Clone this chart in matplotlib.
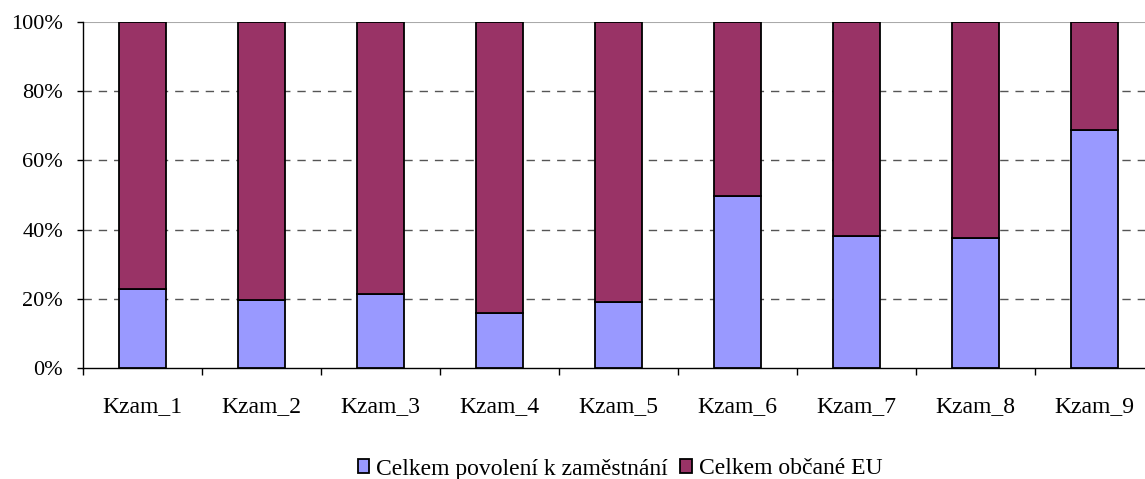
import matplotlib
matplotlib.use('Agg')
import matplotlib.pyplot as plt
import numpy as np

plt.rcParams['font.family'] = ['Liberation Serif', 'DejaVu Serif']

categories = ['Kzam_1', 'Kzam_2', 'Kzam_3', 'Kzam_4', 'Kzam_5',
              'Kzam_6', 'Kzam_7', 'Kzam_8', 'Kzam_9']
povoleni = [22.9, 19.7, 21.3, 15.9, 19.1, 49.7, 38.2, 37.7, 68.8]
obcane_eu = [100 - v for v in povoleni]
series_names = ['Celkem povolení k zaměstnání', 'Celkem občané EU']
colors = ['#9999FF', '#993366']

fig = plt.figure(figsize=(11.45, 4.79), dpi=100)
W, H = 1145, 479
ax = fig.add_axes([83 / W, 1 - 368 / H, 1071 / W, 346 / H])

x = np.arange(len(categories))
ax.bar(x, povoleni, width=0.4, color=colors[0], edgecolor='black',
       linewidth=1.3, label=series_names[0], zorder=3)
ax.bar(x, obcane_eu, width=0.4, bottom=povoleni, color=colors[1],
       edgecolor='black', linewidth=1.3, label=series_names[1], zorder=3)

ax.set_xlim(-0.5, len(categories) - 0.5)
ax.set_ylim(0, 100)
ax.set_yticks([0, 20, 40, 60, 80, 100])
ax.set_yticklabels(['0%', '20%', '40%', '60%', '80%', '100%'], fontsize=16)
for yv in [20, 40, 60, 80]:
    ax.axhline(yv, color='#555555', linestyle=(0, (6, 5)), linewidth=1, zorder=1)
ax.axhline(100, color='#aaaaaa', linewidth=1.5, zorder=1)

# category boundaries carry the ticks, labels sit at the centres
ax.set_xticks(np.arange(len(categories) + 1) - 0.5)
ax.set_xticklabels([])
ax.set_xticks(x, minor=True)
ax.set_xticklabels(categories, minor=True, fontsize=17)
ax.tick_params(axis='x', which='minor', length=0, pad=20)
ax.tick_params(axis='x', which='major', direction='out', length=5, width=1)
ax.tick_params(axis='y', direction='out', length=4.3, width=1, pad=10)

for s in ['top', 'right']:
    ax.spines[s].set_visible(False)
ax.spines['left'].set_linewidth(1)
ax.spines['bottom'].set_linewidth(1)

fig.legend(loc='center', bbox_to_anchor=(620 / W, 1 - 469 / H), ncol=2,
           frameon=False, fontsize=17, handlelength=0.5, handleheight=0.5,
           handletextpad=0.3, columnspacing=0.5, borderpad=0)

fig.savefig('out.png', dpi=100)
